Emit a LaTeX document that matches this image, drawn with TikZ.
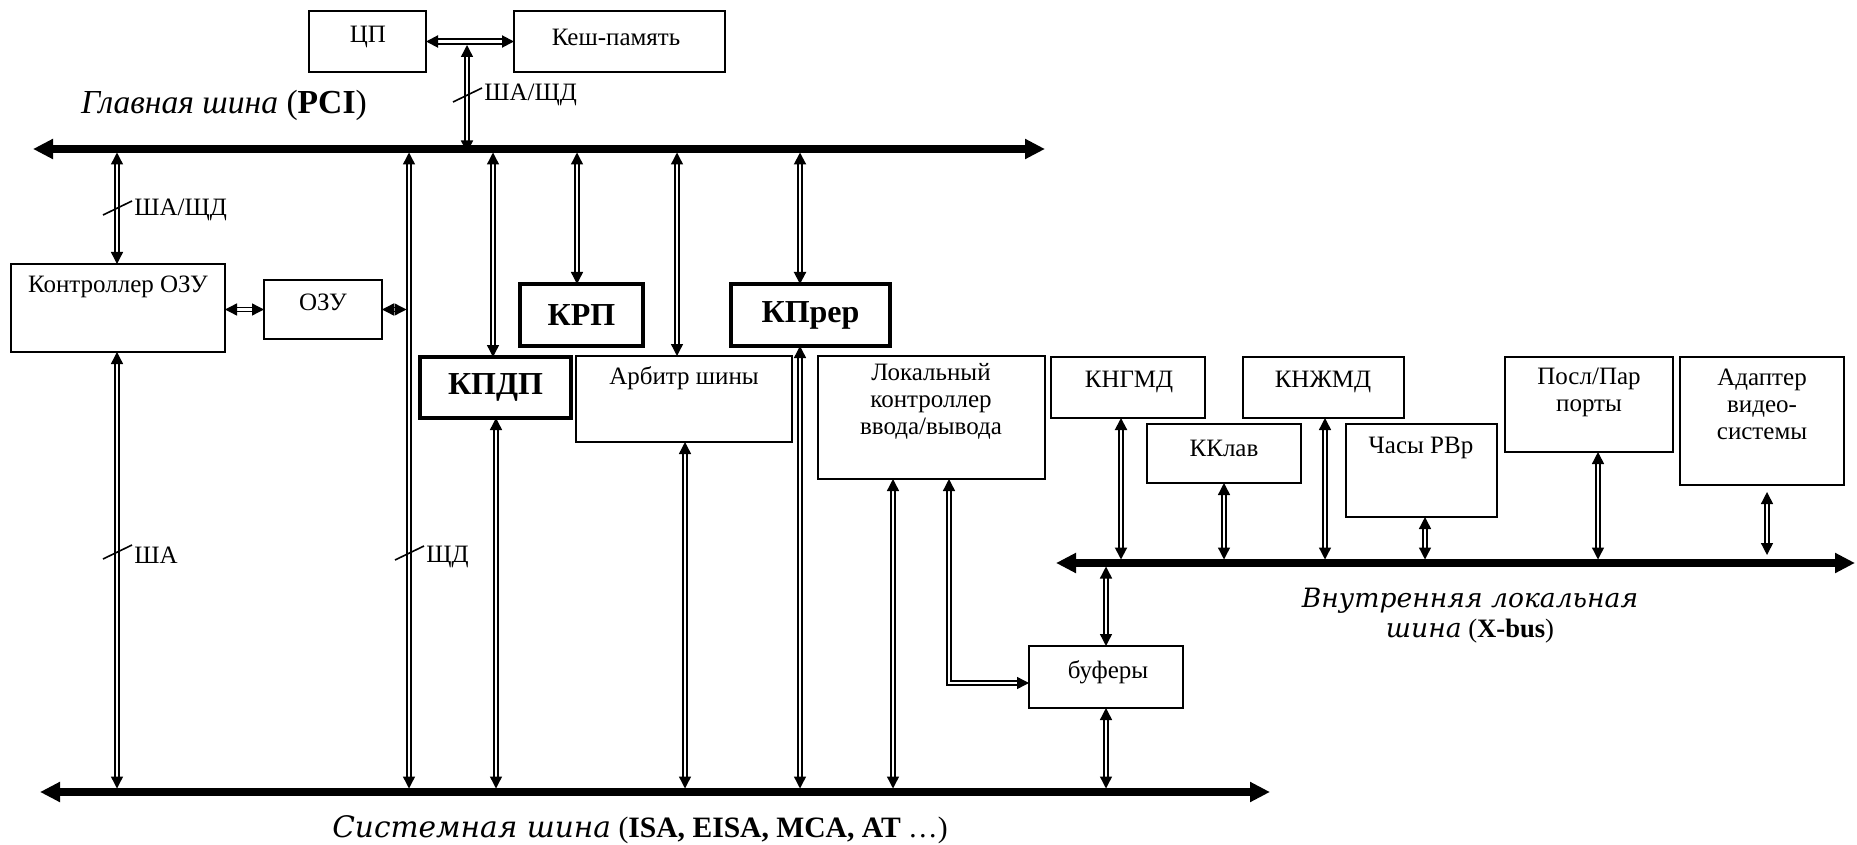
\documentclass[tikz,border=0pt]{standalone}
\usepackage{fontspec}
\setmainfont{Liberation Serif}
\newfontfamily\busfont{DejaVu Serif}
\usetikzlibrary{arrows.meta,calc}
\newcommand\mkbox[6]{\node[#6, minimum width={(#4-#2)*0.5pt}, minimum height={(#5-#3)*0.5pt}] (#1) at ({(#2+#4)/2},{(#3+#5)/2}) {};}
\tikzset{
  box/.style={draw, line width=0.65pt, inner sep=0pt, outer sep=0pt},
  tbox/.style={draw, line width=1.9pt, inner sep=0pt, outer sep=0pt},
  txt/.style={inner sep=0pt, font=\fontsize{12.5}{13.5}\selectfont, align=center},
  btxt/.style={inner sep=0pt, font=\fontsize{16}{18}\selectfont\bfseries},
  bus/.style={line width=3.6pt, {Triangle[length=10pt,width=9.5pt]}-{Triangle[length=10pt,width=9.5pt]}},
  dl/.style={double, line width=0.7pt, double distance=1.3pt, {Triangle[length=6pt,width=6pt]}-{Triangle[length=6pt,width=6pt]}},
  dlt/.style={dl, line width=1.0pt, double distance=1.2pt},
  slash/.style={line width=0.8pt},
  slbl/.style={inner sep=0pt, anchor=west, font=\fontsize{12.5}{13.5}\selectfont},
}
\begin{document}
\begin{tikzpicture}[x=0.5pt,y=-0.5pt]
\useasboundingbox (0,0) rectangle (1857,845);
% boxes
\mkbox{cpu}{309}{11}{426}{72}{box}
\mkbox{cache}{514}{11}{725}{72}{box}
\mkbox{kozu}{11}{264}{225}{352}{box}
\mkbox{ozu}{264}{280}{382}{339}{box}
\mkbox{krp}{520}{284}{643}{346}{tbox}
\mkbox{kpr}{731}{284}{890}{346}{tbox}
\mkbox{kpdp}{420}{357}{571}{418}{tbox}
\mkbox{arb}{576}{356}{792}{442}{box}
\mkbox{loc}{818}{356}{1045}{479}{box}
\mkbox{kngmd}{1051}{357}{1205}{418}{box}
\mkbox{kklav}{1147}{424}{1301}{483}{box}
\mkbox{knzh}{1243}{357}{1404}{418}{box}
\mkbox{clock}{1346}{424}{1497}{517}{box}
\mkbox{ports}{1505}{357}{1673}{452}{box}
\mkbox{video}{1680}{357}{1844}{485}{box}
\mkbox{buf}{1029}{646}{1183}{708}{box}
% box texts
\node[txt] (cpu-t) at (368,37) {ЦП};
\node[txt] (cache-t) at (616,37) {Кеш-память};
\node[txt] (kozu-t) at (118,287) {Контроллер ОЗУ};
\node[txt] (ozu-t) at (323,302) {ОЗУ};
\node[btxt] (krp-t) at (krp) {КРП};
\node[btxt] (kpr-t) at (kpr) {КПрер};
\node[btxt] (kpdp-t) at (kpdp) {КПДП};
\node[txt] (arb-t) at (684,378) {Арбитр шины};
\node[txt] (loc-t) at (931,401) {Локальный\\контроллер\\ввода/вывода};
\node[txt] (kngmd-t) at (1129,382) {КНГМД};
\node[txt] (kklav-t) at (1224,448) {ККлав};
\node[txt] (knzh-t) at (1323,382) {КНЖМД};
\node[txt] (clock-t) at (1421,448) {Часы РВр};
\node[txt] (ports-t) at (1589,392) {Посл/Пар\\порты};
\node[txt] (video-t) at (1762,404) {Адаптер\\видео-\\системы};
\node[txt] (buf-t) at (1108,672) {буферы};
% buses
\coordinate (pciL) at (33,149); \coordinate (pciR) at (1045,149);
\coordinate (sysL) at (40,792); \coordinate (sysR) at (1270,792);
\coordinate (xL) at (1056,563); \coordinate (xR) at (1855,563);
\draw[bus] (pciL) -- (pciR);
\draw[bus] (sysL) -- (sysR);
\draw[bus] (xL) -- (xR);
\coordinate (pciD) at (0,152.5);
\coordinate (sysU) at (0,788.5);
\coordinate (xU) at (0,559.5);
\coordinate (xD) at (0,566.5);
% bus labels
\node[inner sep=0pt, font=\fontsize{16.8}{18}\selectfont] (pci-l) at (224,105) {\textit{Главная шина} (\textbf{PCI})};
\node[inner sep=0pt, font=\fontsize{14.8}{16}\selectfont] (sys-l) at (640,830) {{\busfont\itshape Системная шина} (\textbf{ISA, EISA, MCA, AT} …)};
\node[inner sep=0pt, font=\fontsize{13.3}{15}\selectfont, align=center] (x-l) at (1470,616) {{\busfont\itshape Внутренняя локальная}\\{\busfont\itshape шина} (\textbf{X-bus})};
% CPU link
\draw[dlt] (cpu.east) -- (cache.west);
\coordinate (vc) at (467,45);
\draw[dl] (vc) -- (vc |- pciD);
% verticals PCI side
\coordinate (v1) at (117,0);
\coordinate (v2) at (409,0);
\coordinate (v3) at (493,0);
\coordinate (v3b) at (496,0);
\coordinate (v4) at (577,0);
\coordinate (v5) at (677,0);
\coordinate (v5b) at (685,0);
\coordinate (v6) at (800,0);
\coordinate (v7) at (893,0);
\coordinate (v8) at (1106,0);
\draw[dl] (v1 |- pciD) -- (v1 |- kozu.north);
\draw[dl] (v1 |- kozu.south) -- (v1 |- sysU);
\draw[dl] (v2 |- pciD) -- (v2 |- sysU);
\draw[dl] (v3 |- pciD) -- (v3 |- kpdp.north);
\draw[dl] (v3b |- kpdp.south) -- (v3b |- sysU);
\draw[dl] (v4 |- pciD) -- (v4 |- krp.north);
\draw[dl] (v5 |- pciD) -- (v5 |- arb.north);
\draw[dl] (v5b |- arb.south) -- (v5b |- sysU);
\draw[dlt] (v6 |- pciD) -- (v6 |- kpr.north);
\draw[dl] (v6 |- kpr.south) -- (v6 |- sysU);
\draw[dl] (v7 |- loc.south) -- (v7 |- sysU);
\coordinate (Lc) at (949,683);
\draw[dl] (loc.south -| Lc) -- (Lc) -- (buf.west |- Lc);
\draw[dl] (v8 |- xD) -- (v8 |- buf.north);
\draw[dl] (v8 |- buf.south) -- (v8 |- sysU);
% RAM links
\draw[dl] (kozu.east |- ozu.west) -- (ozu.west);
\coordinate (ozr) at (406.5,0);
\draw[dl] (ozu.east) -- (ozu.east -| ozr);
% X-bus verticals
\coordinate (w1) at (1121,0);
\coordinate (w2) at (1224,0);
\coordinate (w3) at (1325,0);
\coordinate (w4) at (1425,0);
\coordinate (w5) at (1598,0);
\draw[dlt] (w1 |- kngmd.south) -- (w1 |- xU);
\draw[dl] (w2 |- kklav.south) -- (w2 |- xU);
\draw[dl] (w3 |- knzh.south) -- (w3 |- xU);
\draw[dl] (w4 |- clock.south) -- (w4 |- xU);
\draw[dl] (w5 |- ports.south) -- (w5 |- xU);
\coordinate (va1) at (1767,492); \coordinate (va2) at (1767,555);
\draw[dl] (va1) -- (va2);
% slashes and labels
\draw[slash] (103,215) -- (132,201);
\node[slbl] (s1) at (134,210) {ША/ЩД};
\draw[slash] (453,102) -- (482,88);
\node[slbl] (s2) at (484,95) {ША/ЩД};
\draw[slash] (103,559) -- (132,545);
\node[slbl] (s3) at (134,555) {ША};
\draw[slash] (395,560) -- (424,546);
\node[slbl] (s4) at (426,557) {ЩД};
\end{tikzpicture}
\end{document}
